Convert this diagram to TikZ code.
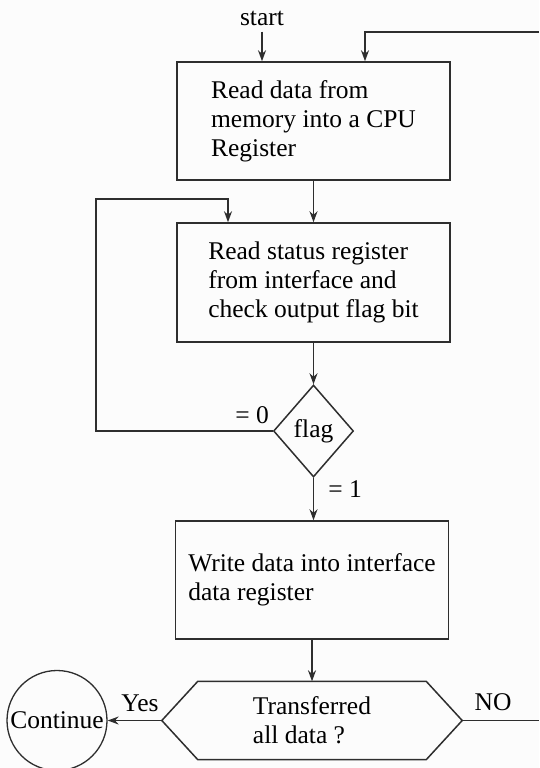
\documentclass[tikz,border=0pt]{standalone}
\usepackage{fontspec}
\setmainfont{Liberation Serif}
\usetikzlibrary{shapes.geometric,arrows.meta}
\definecolor{linec}{gray}{0.18}
\definecolor{bg}{gray}{0.99}
\begin{document}
\begin{tikzpicture}[x=1pt,y=-1pt,
  every node/.style={font=\fontsize{25.5}{29}\selectfont, text=black},
  procbox/.style={draw=linec, line width=1.5pt, rectangle, minimum width=273pt, minimum height=118pt, align=left, inner sep=0pt},
  decision/.style={diamond, draw=linec, line width=1.5pt, minimum width=80pt, minimum height=92pt, aspect=0.87, inner sep=0pt},
  arr/.style={draw=linec, line width=1.5pt, -{Stealth[length=11pt,width=8pt]}},
  ln/.style={draw=linec, line width=1.5pt},
  lbl/.style={inner sep=0pt}]
\useasboundingbox[fill=bg] (0,0) rectangle (539,768);

\node[procbox] (b1) at (313.5,121) {Read data from\\memory into a CPU\\Register};
\node[procbox, minimum height=119pt] (b2) at (313.5,282.5) {Read status register\\from interface and\\check output flag bit};
\node[decision] (fl) at (313.5,431) {flag};
\node[procbox] (b3) at (312,580) {Write data into interface\\data register};
\node[minimum width=300pt, minimum height=78pt, inner sep=0pt, align=left] (hx) at (312,720.5) {Transferred\\all data ?};
\draw[ln] (hx.west) -- ([xshift=36pt]hx.north west) -- ([xshift=-36pt]hx.north east) -- (hx.east) -- ([xshift=-36pt]hx.south east) -- ([xshift=36pt]hx.south west) -- cycle;
\node[circle, draw=linec, line width=1.3pt, minimum size=100pt, inner sep=0pt] (ct) at (57,720.5) {Continue};

\node[lbl] (st) at (262,18) {start};
\node[lbl] (l0) at (252,415) {= 0};
\node[lbl] (l1) at (345,489) {= 1};
\node[lbl] (ly) at (140,703) {Yes};
\node[lbl] (ln) at (493,702) {NO};

\coordinate (rt) at (539,32);
\coordinate (rb) at (539,720.5);
\coordinate (lc) at (96,199);

\draw[arr] ([yshift=-6pt]st.south) -- (st.south |- b1.north);
\draw[arr] (rt) -| ([xshift=51.5pt]b1.north);
\draw[arr] (b1) -- (b2);
\draw[arr] (b2) -- (fl);
\draw[arr] (fl.west) -| (lc) -| ([xshift=-85.5pt]b2.north);
\draw[arr] (fl.south) -- (fl.south |- b3.north);
\draw[arr] (b3.south) -- (b3.south |- hx.north);
\draw[arr] (hx.west) -- (ct.east);
\draw[ln] (hx.east) -- (rb);
\end{tikzpicture}
\end{document}
